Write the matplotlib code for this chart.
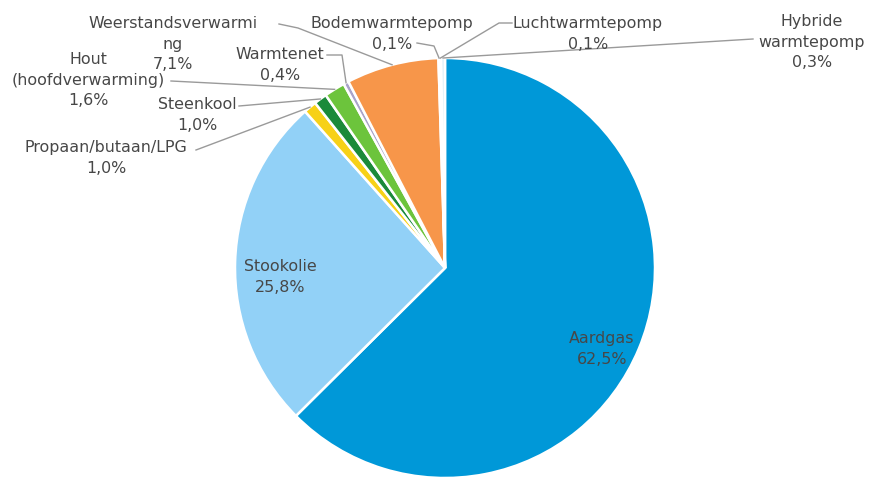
import numpy as np
import matplotlib.pyplot as plt

categories = ["Aardgas", "Stookolie", "Propaan/butaan/LPG", "Steenkool",
              "Hout\n(hoofdverwarming)", "Warmtenet", "Weerstandsverwarmi\nng",
              "Bodemwarmtepomp", "Luchtwarmtepomp", "Hybride\nwarmtepomp"]
shares = [62.5, 25.8, 1.0, 1.0, 1.6, 0.4, 7.1, 0.1, 0.1, 0.3]
colors = ["#0098d8", "#92d1f7", "#f7d117", "#1b8a3a", "#6cc43c", "#a9a3c9",
          "#f7964a", "#f6cfa6", "#fff3b8", "#dff0f9"]

W, H = 872, 479
fig = plt.figure(figsize=(W / 100, H / 100), dpi=100)
ax = fig.add_axes([0, 0, 1, 1])
ax.set_aspect("equal")
ax.axis("off")

cx, cy, r = 445, H - 268, 210
wedges, _ = ax.pie(shares, colors=colors, startangle=90, counterclock=False,
                   center=(cx, cy), radius=r, normalize=True,
                   wedgeprops=dict(edgecolor="white", linewidth=1.8))
ax.set_xlim(0, W)
ax.set_ylim(0, H)

def fmt(v):
    return f"{v:.1f}".replace(".", ",") + "%"

def rim(w, frac=0.5):
    a = np.deg2rad(w.theta1 + (w.theta2 - w.theta1) * frac)
    return cx + r * np.cos(a), cy + r * np.sin(a)

txt = dict(fontsize=11.4, color="#474747", ha="center", va="center_baseline",
           family="DejaVu Sans")
line = dict(color="#9a9a9a", lw=1.0)
PITCH = 20.5

def label(i, x, y_top):
    # one text per line so every line is placed on a fixed pitch
    rows = categories[i].split("\n") + [fmt(shares[i])]
    for k, s in enumerate(rows):
        ax.text(x, H - (y_top + k * PITCH), s, **txt)

# Labels inside the two large wedges
label(0, 602, 337)
label(1, 280, 265)

# Outside labels: (index, label x, first line y, leader path in pixels)
outside = [
    (2, 106, 146, [(196, 150)]),
    (3, 197, 103, [(239, 106)]),
    (4, 88, 58, [(171, 81)]),
    (5, 280, 53, [(327, 55), (342, 55)]),
    (6, 173, 22, [(279, 24), (298, 28)]),
    (7, 392, 22, [(417, 43), (434, 46)]),
    (8, 588, 22, [(512, 23), (499, 23)]),
    (9, 812, 20, [(753, 39)]),
]
for i, lx, ly, pts in outside:
    label(i, lx, ly)
    tx, ty = rim(wedges[i])
    xs = [p[0] for p in pts] + [tx]
    ys = [H - p[1] for p in pts] + [ty]
    ax.plot(xs, ys, **line)

fig.savefig("out.png", dpi=100, facecolor="white")
